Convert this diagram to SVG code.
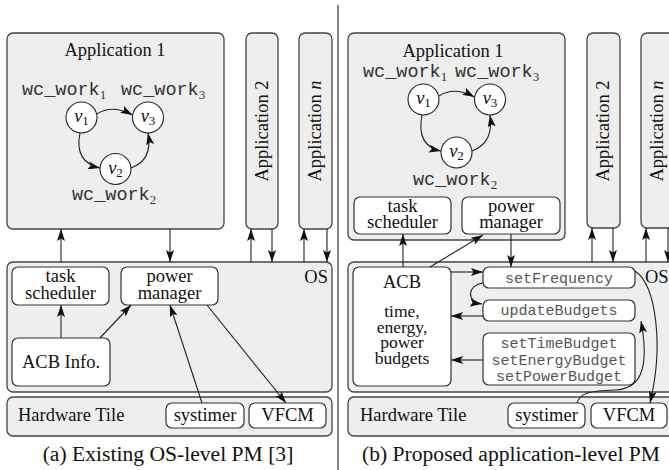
<svg xmlns="http://www.w3.org/2000/svg" width="669" height="470" viewBox="0 0 669 470">
<style>
.g{fill:#eeeeee;stroke:#444;stroke-width:1.3}
.w{fill:#ffffff;stroke:#333;stroke-width:1.2}
.c{fill:#ffffff;stroke:#222;stroke-width:1.1}
.t{font-family:"Liberation Serif","Times New Roman",serif;font-size:18.5px;fill:#111}
.m{text-anchor:middle}
.bud{font-size:17.5px}
.cap{font-family:"Liberation Serif","Times New Roman",serif;font-size:21.6px;fill:#111;text-anchor:middle}
.wc{font-family:"Liberation Mono","Courier New",monospace;font-size:18.5px;fill:#333}
.fn{font-family:"Liberation Mono","Courier New",monospace;font-size:15px;fill:#555;text-anchor:middle}
.sub{font-family:"Liberation Serif","Times New Roman",serif;font-size:13px}
.a{fill:none;stroke:#222;stroke-width:1.1;marker-end:url(#ah)}
</style>
<defs>
<marker id="ah" viewBox="0 0 12 8" refX="12" refY="4" markerWidth="12" markerHeight="8" orient="auto" markerUnits="userSpaceOnUse">
<path d="M0,0 L12,4 L0,8 L2.5,4 z" fill="#111"/>
</marker>
</defs>

<line x1="338" y1="5" x2="338" y2="470" stroke="#333" stroke-width="1.2"/>

<!-- Panel (a) -->
<g id="a-app1">
<rect class="g" x="7" y="33" width="217" height="196" rx="6"/>
<text class="t m" x="115" y="56">Application 1</text>
<text class="wc" x="22" y="95">wc_work<tspan class="sub" dy="4">1</tspan></text>
<text class="wc" x="121" y="95">wc_work<tspan class="sub" dy="4">3</tspan></text>
<text class="wc" x="72" y="200">wc_work<tspan class="sub" dy="4">2</tspan></text>
</g>
<g id="a-v1"><circle class="c" cx="81.5" cy="117.5" r="15.5"/><text class="t m" x="81.5" y="122"><tspan font-style="italic">v</tspan><tspan class="sub" dy="3">1</tspan></text></g>
<g id="a-v3"><circle class="c" cx="148" cy="117.5" r="15.5"/><text class="t m" x="148" y="122"><tspan font-style="italic">v</tspan><tspan class="sub" dy="3">3</tspan></text></g>
<g id="a-v2"><circle class="c" cx="115.5" cy="169" r="15.5"/><text class="t m" x="115.5" y="173.5"><tspan font-style="italic">v</tspan><tspan class="sub" dy="3">2</tspan></text></g>
<g id="a-app2"><rect class="g" x="246" y="33" width="32" height="196" rx="6"/><text class="t m" transform="translate(267.5,131) rotate(-90)">Application 2</text></g>
<g id="a-appn"><rect class="g" x="299" y="33" width="33" height="196" rx="6"/><text class="t m" transform="translate(321,131) rotate(-90)">Application <tspan font-style="italic">n</tspan></text></g>
<g id="a-os"><rect class="g" x="7" y="262" width="325" height="130" rx="6"/><text class="t" x="328" y="283" text-anchor="end">OS</text></g>
<g id="a-task"><rect class="w" x="12" y="267" width="97" height="38" rx="6"/><text class="t m" x="60.5" y="282">task</text><text class="t m" x="60.5" y="299">scheduler</text></g>
<g id="a-pm"><rect class="w" x="121" y="267" width="97" height="38" rx="6"/><text class="t m" x="169.5" y="282">power</text><text class="t m" x="169.5" y="299">manager</text></g>
<g id="a-acb"><rect class="w" x="12" y="338" width="98" height="48" rx="6"/><text class="t m" x="61" y="368">ACB Info.</text></g>
<g id="a-hw"><rect class="g" x="7" y="397" width="325" height="39" rx="6"/><text class="t" x="18" y="421">Hardware Tile</text></g>
<g id="a-systimer"><rect class="w" x="166" y="403" width="78" height="25" rx="6"/><text class="t m" x="205" y="421">systimer</text></g>
<g id="a-vfcm"><rect class="w" x="249" y="403" width="77" height="25" rx="6"/><text class="t m" x="287.5" y="421">VFCM</text></g>
<text class="cap" x="168" y="461">(a) Existing OS-level PM [3]</text>

<!-- Panel (b) -->
<g id="b-app1">
<rect class="g" x="348" y="33" width="217" height="207" rx="6"/>
<text class="t m" x="453" y="57">Application 1</text>
<text class="wc" x="363" y="77">wc_work<tspan class="sub" dy="4">1</tspan></text>
<text class="wc" x="455" y="77">wc_work<tspan class="sub" dy="4">3</tspan></text>
<text class="wc" x="413" y="185">wc_work<tspan class="sub" dy="4">2</tspan></text>
</g>
<g id="b-v1"><circle class="c" cx="423.5" cy="99.5" r="15.5"/><text class="t m" x="423.5" y="104"><tspan font-style="italic">v</tspan><tspan class="sub" dy="3">1</tspan></text></g>
<g id="b-v3"><circle class="c" cx="490" cy="99.5" r="15.5"/><text class="t m" x="490" y="104"><tspan font-style="italic">v</tspan><tspan class="sub" dy="3">3</tspan></text></g>
<g id="b-v2"><circle class="c" cx="456.5" cy="152.5" r="15.5"/><text class="t m" x="456.5" y="157"><tspan font-style="italic">v</tspan><tspan class="sub" dy="3">2</tspan></text></g>
<g id="b-task"><rect class="w" x="354" y="197" width="97" height="37" rx="6"/><text class="t m" x="402.5" y="212">task</text><text class="t m" x="402.5" y="228">scheduler</text></g>
<g id="b-pm"><rect class="w" x="462" y="197" width="98" height="37" rx="6"/><text class="t m" x="511" y="212">power</text><text class="t m" x="511" y="228">manager</text></g>
<g id="b-app2"><rect class="g" x="587" y="33" width="33" height="195" rx="6"/><text class="t m" transform="translate(609,131) rotate(-90)">Application 2</text></g>
<g id="b-appn"><rect class="g" x="641" y="33" width="40" height="195" rx="6"/><text class="t m" transform="translate(663,131) rotate(-90)">Application <tspan font-style="italic">n</tspan></text></g>
<g id="b-os"><rect class="g" x="348" y="262" width="335" height="130" rx="6"/><text class="t" x="645" y="283">OS</text></g>
<g id="b-acb"><rect class="w" x="353" y="267" width="98" height="119" rx="6"/>
<text class="t m" x="402" y="288">ACB</text>
<text class="t m bud" x="402" y="317">time,</text>
<text class="t m bud" x="402" y="332.5">energy,</text>
<text class="t m bud" x="402" y="348">power</text>
<text class="t m bud" x="402" y="363.5">budgets</text></g>
<g id="b-setfreq"><rect class="w" x="483" y="267" width="152" height="21" rx="6"/><text class="fn" x="559" y="283">setFrequency</text></g>
<g id="b-update"><rect class="w" x="483" y="300" width="152" height="21" rx="6"/><text class="fn" x="559" y="315">updateBudgets</text></g>
<g id="b-setbudgets"><rect class="w" x="483" y="333" width="152" height="52" rx="6"/>
<text class="fn" x="559" y="348">setTimeBudget</text>
<text class="fn" x="559" y="364.5">setEnergyBudget</text>
<text class="fn" x="559" y="380.5">setPowerBudget</text></g>
<g id="b-hw"><rect class="g" x="348" y="397" width="335" height="39" rx="6"/><text class="t" x="360" y="421">Hardware Tile</text></g>
<g id="b-systimer"><rect class="w" x="508" y="403" width="77" height="25" rx="6"/><text class="t m" x="546.5" y="421">systimer</text></g>
<g id="b-vfcm"><rect class="w" x="591" y="403" width="76" height="25" rx="6"/><text class="t m" x="629" y="421">VFCM</text></g>
<text class="cap" x="511" y="461">(b) Proposed application-level PM</text>

<g id="connectors">
<!-- (a) task graph -->
<path class="a" d="M97,114 Q112,104 132.5,115"/>
<path class="a" d="M80,133 Q74,162 100,168"/>
<path class="a" d="M131,168 Q153,160 148,133"/>
<!-- (a) app-os -->
<path class="a" d="M61,262 L61,229"/>
<path class="a" d="M170,229 L170,262"/>
<path class="a" d="M251,262 L251,229"/>
<path class="a" d="M272,229 L272,262"/>
<path class="a" d="M304,262 L304,229"/>
<path class="a" d="M327,229 L327,262"/>
<!-- (a) internal -->
<path class="a" d="M61,338 L61,305"/>
<path class="a" d="M100,338 L131,305"/>
<path class="a" d="M202,403 L170,305"/>
<path class="a" d="M207,305 L286,403"/>
<!-- (b) task graph -->
<path class="a" d="M439,96 Q454,86 474.5,97"/>
<path class="a" d="M422,115 Q416,146 441,151"/>
<path class="a" d="M472,151 Q494,143 490,115"/>
<!-- (b) app-os -->
<path class="a" d="M592,262 L592,228"/>
<path class="a" d="M613,228 L613,262"/>
<path class="a" d="M646,262 L646,228"/>
<path class="a" d="M668,228 L668,262"/>
<!-- (b) internal -->
<path class="a" d="M403,267 L403,234"/>
<path class="a" d="M430,267 L483,235"/>
<path class="a" d="M511,234 L511,267"/>
<path class="a" d="M451,272 L483,272"/>
<path class="a" d="M483,316 L451,316"/>
<path class="a" d="M483,360 L451,360"/>
<path class="a" d="M483,283 C467,285 466,302 482,304"/>
<path class="a" d="M635,271 C656,285 664,345 650,403"/>
<path class="a" d="M577,403 C580,392 592,391 615,390 C640,389 650,370 641,321"/>
</g>
</svg>
